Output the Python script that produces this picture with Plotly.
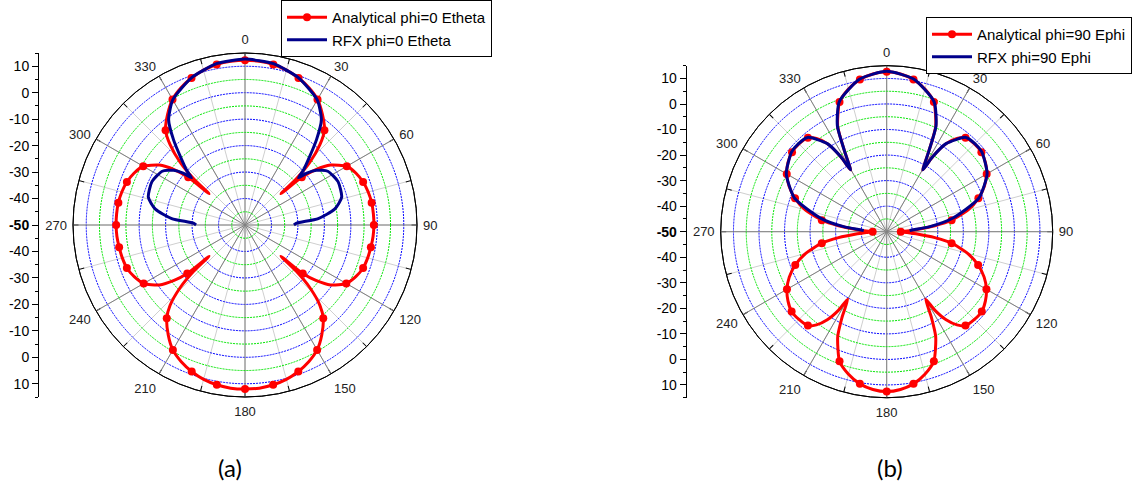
import plotly.graph_objects as go

# ---------------- data: panel (a) ----------------
A_RED_THETA = [0, 5, 10, 15, 20, 25, 30, 35, 40, 43, 46, 48, 49, 50, 52, 55, 60, 65, 70, 75, 80, 85, 90,
               95, 100, 105, 110, 115, 120, 125, 128, 130, 131, 132, 134, 137, 140, 145, 150, 155, 160, 165, 170, 175, 180,
               185, 190, 195, 200, 205, 210, 215, 220, 223, 226, 228, 229, 230, 232, 235, 240, 245, 250, 255, 260, 265, 270,
               275, 280, 285, 290, 295, 300, 305, 308, 310, 311, 312, 314, 317, 320, 325, 330, 335, 340, 345, 350, 355, 360]
A_RED_R = [12.3, 12.1, 11.6, 10.6, 9.1, 7.2, 4.8, 1.0, -3.3, -8.5, -16, -24, -32, -22, -16, -10.5, -5.6, -3.7, -2.5, -1.8, -1.4, -1.3, -1.3,
           -1.4, -1.7, -2.0, -2.5, -3.8, -5.8, -10.5, -16, -21.5, -32, -24, -16, -8.5, -4.0, 0.6, 4.5, 7.0, 8.9, 10.4, 11.3, 11.9, 12.0,
           11.9, 11.3, 10.4, 8.9, 7.0, 4.5, 0.6, -4.0, -8.5, -16, -24, -32, -21.5, -16, -10.5, -5.8, -3.8, -2.5, -2.0, -1.7, -1.4, -1.3,
           -1.3, -1.4, -1.8, -2.5, -3.7, -5.6, -10.5, -16, -22, -32, -24, -16, -8.5, -3.3, 1.0, 4.8, 7.2, 9.1, 10.6, 11.6, 12.1, 12.3]
A_RED_MK_THETA = [0, 10, 20, 30, 40, 50, 60, 70, 80, 90, 100, 110, 120, 130, 140, 150, 160, 170,
                  180, 190, 200, 210, 220, 230, 240, 250, 260, 270, 280, 290, 300, 310, 320, 330, 340, 350]
A_RED_MK_R = [12.3, 11.6, 9.1, 4.8, -3.3, -22, -5.6, -2.5, -1.4, -1.3, -1.7, -2.5, -5.8, -21.5, -4.0, 4.5, 8.9, 11.3,
              12.0, 11.3, 8.9, 4.5, -4.0, -21.5, -5.8, -2.5, -1.7, -1.3, -1.4, -2.5, -5.6, -22, -3.3, 4.8, 9.1, 11.6]
A_BLUE_THETA = [270, 272, 275, 280, 286, 295, 303, 307.5, 310, 311.5, 313, 316, 320, 324, 330, 340, 350, 360,
                10, 20, 30, 36, 40, 44, 47, 48.5, 50, 52.5, 57, 65, 74, 80, 85, 88, 90]
A_BLUE_R = [-31.5, -30.5, -22.2, -15.6, -12, -11.2, -12.7, -16, -19.5, -23, -20, -15.5, -8, -0.9, 4.6, 9.2, 11.9, 12.7,
            11.9, 9.2, 4.6, -0.9, -8, -15.5, -20, -23, -19.5, -16, -12.7, -11.2, -12, -15.6, -22.2, -30.5, -31.5]

# ---------------- data: panel (b) ----------------
B_RED_THETA = [0, 5, 10, 15, 20, 25, 27.5, 29.4, 30.3, 31.5, 34, 37, 40, 45, 50, 55, 60, 65, 70, 75, 80, 83, 86, 88, 90,
               92, 94, 97, 100, 105, 110, 115, 120, 125, 130, 135, 140, 143, 146, 148.5, 150, 152.5, 155, 160, 165, 170, 175, 180,
               185, 190, 195, 200, 205, 207.5, 210, 211.5, 214, 217, 220, 225, 230, 235, 240, 245, 250, 255, 260, 263, 266, 268, 270,
               272, 274, 277, 280, 285, 290, 295, 300, 305, 310, 315, 320, 323, 326, 328.5, 329.7, 330.6, 332.5, 335, 340, 345, 350, 355, 360]
B_RED_R = [12.6, 12.0, 10.5, 7.8, 4.0, -4.6, -14, -20, -22, -15.6, -8.4, -4.3, -2.0, -1.4, -1.6, -2.8, -4.8, -7.8, -11.8, -17, -24.2, -31, -38.5, -42, -44.5,
           -42, -38.5, -31, -24.2, -17.2, -11.9, -7.9, -4.9, -2.8, -1.4, -1.4, -2.0, -4.3, -8.4, -14, -19.5, -12, -4.6, 4.0, 7.8, 10.5, 12.0, 12.6,
           12.0, 10.5, 7.8, 4.0, -4.6, -12, -19.5, -14, -8.4, -4.3, -2.0, -1.4, -1.4, -2.8, -4.9, -7.9, -11.9, -17.2, -24.2, -31, -38.5, -42, -44.5,
           -42, -38.5, -31, -24.2, -17, -11.8, -7.8, -4.8, -2.8, -1.6, -1.4, -2.0, -4.3, -8.4, -15.6, -22, -20, -14, -4.6, 4.0, 7.8, 10.5, 12.0, 12.6]
B_RED_MK_THETA = [0, 10, 20, 40, 50, 60, 70, 80, 90, 100, 110, 120, 130, 140, 160, 170,
                  180, 190, 200, 220, 230, 240, 250, 260, 270, 280, 290, 300, 310, 320, 340, 350]
B_RED_MK_R = [12.6, 10.5, 4.0, -2.0, -1.6, -4.8, -11.8, -24.2, -44.5, -24.2, -11.9, -4.9, -1.4, -2.0, 4.0, 10.5,
              12.6, 10.5, 4.0, -2.0, -1.4, -4.9, -11.9, -24.2, -44.5, -24.2, -11.8, -4.8, -1.6, -2.0, 4.0, 10.5]
B_BLUE_THETA = [273, 274, 276.7, 281.5, 290, 300, 310, 315, 320, 326, 328.5, 329.7, 330.6, 332.5, 335, 340, 350, 360,
                10, 20, 25, 27.5, 29.4, 30.3, 31.5, 34, 40, 45, 50, 60, 70, 78.5, 83.3, 86, 87]
B_BLUE_R = [-41, -40, -33, -23.7, -11.6, -4.6, -1.4, -1.2, -1.8, -8.4, -15.6, -22, -20, -14, -4.3, 4.2, 10.7, 12.8,
            10.7, 4.2, -4.3, -14, -20, -22, -15.6, -8.4, -1.8, -1.2, -1.4, -4.6, -11.6, -23.7, -33, -40, -41]

# ---------------- axis labels ----------------
RADIAL_TICKVALS = [-60, -50, -40, -30, -20, -10, 0, 10, 20, 30, 40, 50, 60]
RADIAL_TICKTEXT = ['10', '0', '-10', '-20', '-30', '-40', '<b>-50</b>', '-40', '-30', '-20', '-10', '0', '10']
ANGLE_VALS = [0, 30, 60, 90, 120, 150, 180, 210, 240, 270, 300, 330]
ANGLE_TEXT = ['0', '30', '60', '90', '120', '150', '180', '210', '240', '270', '300', '330']
MINOR_ANGLE_VALS = [0, 15, 30, 45, 60, 75, 90, 105, 120, 135, 150, 165, 180, 195, 210, 225, 240, 255, 270, 285, 300,
                    315, 330, 345]
BLUE_RINGS = [-40, -30, -20, -10, 0, 10]
GREEN_RINGS = [-45, -35, -25, -15, -5, 5]

W, H = 1137, 487
FONT = "Liberation Sans, Arial, sans-serif"
RED = "#ff0000"
NAVY = "#00008b"


def px_x(v):
    return v / W


def px_y(v):
    return 1 - v / H


def polar_base(xd, yd):
    return dict(
        domain=dict(x=xd, y=yd), bgcolor="white",
        radialaxis=dict(range=[-50, 15], tickvals=BLUE_RINGS, showticklabels=False, ticks="", showline=False,
                        gridcolor="#0000ff", griddash="2px,1px", gridwidth=1),
        angularaxis=dict(rotation=90, direction="clockwise", tickvals=MINOR_ANGLE_VALS, showticklabels=False,
                         gridcolor="#cfcfcf", showline=True, linecolor="black", linewidth=1,
                         ticks="inside", ticklen=5, tickcolor="black"),
    )


def polar_top(xd, yd):
    return dict(
        domain=dict(x=xd, y=yd), bgcolor="rgba(0,0,0,0)",
        radialaxis=dict(range=[-50, 15], tickvals=GREEN_RINGS, showticklabels=False, ticks="", showline=False,
                        gridcolor="#00e600", griddash="2px,1px", gridwidth=1),
        angularaxis=dict(rotation=90, direction="clockwise", tickvals=ANGLE_VALS, ticktext=ANGLE_TEXT,
                         showticklabels=True, gridcolor="#808080", showline=True, linecolor="black", linewidth=1,
                         ticks="outside", ticklen=3, tickcolor="rgba(0,0,0,0)",
                         tickfont=dict(family=FONT, size=13, color="#222222")),
    )


fig = go.Figure()

panels = [
    dict(base="polar", top="polar2", legend="legend",
         red=(A_RED_THETA, A_RED_R), mk=(A_RED_MK_THETA, A_RED_MK_R), blue=(A_BLUE_THETA, A_BLUE_R),
         red_name="Analytical phi=0 Etheta", blue_name="RFX phi=0 Etheta"),
    dict(base="polar3", top="polar4", legend="legend2",
         red=(B_RED_THETA, B_RED_R), mk=(B_RED_MK_THETA, B_RED_MK_R), blue=(B_BLUE_THETA, B_BLUE_R),
         red_name="Analytical phi=90 Ephi", blue_name="RFX phi=90 Ephi"),
]

for p in panels:
    fig.add_trace(go.Scatterpolar(r=[None], theta=[None], subplot=p["base"], showlegend=False, mode="lines"))
    fig.add_trace(go.Scatterpolar(r=[None], theta=[None], subplot=p["top"], mode="lines+markers",
                                  name=p["red_name"], legend=p["legend"],
                                  line=dict(color=RED, width=3), marker=dict(color=RED, size=8)))
    fig.add_trace(go.Scatterpolar(r=p["red"][1], theta=p["red"][0], subplot=p["top"], mode="lines",
                                  showlegend=False, line=dict(color=RED, width=3, shape="spline", smoothing=0.6)))
    fig.add_trace(go.Scatterpolar(r=p["mk"][1], theta=p["mk"][0], subplot=p["top"], mode="markers",
                                  showlegend=False, marker=dict(color=RED, size=8)))
    fig.add_trace(go.Scatterpolar(r=p["blue"][1], theta=p["blue"][0], subplot=p["top"], mode="lines",
                                  name=p["blue_name"], legend=p["legend"],
                                  line=dict(color=NAVY, width=3, shape="spline", smoothing=0.6)))

# dummy traces for the radial (linear) axes on the left of each polar plot
fig.add_trace(go.Scatter(x=[None], y=[None], xaxis="x", yaxis="y", showlegend=False))
fig.add_trace(go.Scatter(x=[None], y=[None], xaxis="x2", yaxis="y2", showlegend=False))

A_X = [px_x(73), px_x(417)]
A_Y = [px_y(397), px_y(53)]
B_X = [px_x(720.7), px_x(1052.7)]
B_Y = [px_y(397.7), px_y(65.7)]


def yaxis_def(domain, anchor):
    return dict(domain=domain, anchor=anchor, range=[-65, 65], tickvals=RADIAL_TICKVALS, ticktext=RADIAL_TICKTEXT,
                ticks="outside", ticklen=6, tickwidth=1, tickcolor="black", showline=True, linecolor="black",
                linewidth=1, showgrid=False, zeroline=False, fixedrange=True,
                tickfont=dict(family=FONT, size=14, color="black"),
                minor=dict(dtick=5, tick0=0, ticks="outside", ticklen=3, tickcolor="black", showgrid=False))


def legend_def(x, y):
    return dict(x=px_x(x), y=px_y(y), xanchor="left", yanchor="top", bgcolor="white",
                bordercolor="black", borderwidth=1, font=dict(family=FONT, size=15, color="black"),
                tracegroupgap=0, itemwidth=40)


fig.update_layout(
    width=W, height=H, autosize=False,
    margin=dict(l=0, r=0, t=0, b=0),
    paper_bgcolor="white", plot_bgcolor="rgba(0,0,0,0)",
    polar=polar_base(A_X, A_Y), polar2=polar_top(A_X, A_Y),
    polar3=polar_base(B_X, B_Y), polar4=polar_top(B_X, B_Y),
    xaxis=dict(domain=[px_x(39), px_x(45)], visible=False, range=[0, 1]),
    yaxis=yaxis_def(A_Y, "x"),
    xaxis2=dict(domain=[px_x(686.7), px_x(692)], visible=False, range=[0, 1]),
    yaxis2=yaxis_def(B_Y, "x2"),
    legend=legend_def(281, 0),
    legend2=legend_def(926, 17),
    annotations=[
        dict(text="(a)", x=px_x(230), y=px_y(467), xref="paper", yref="paper", showarrow=False,
             xanchor="center", yanchor="middle",
             font=dict(family="Lato, sans-serif", size=24, color="black")),
        dict(text="(b)", x=px_x(890), y=px_y(467), xref="paper", yref="paper", showarrow=False,
             xanchor="center", yanchor="middle",
             font=dict(family="Lato, sans-serif", size=24, color="black")),
    ],
)

fig.write_html("out.html", config={"displayModeBar": False},
               post_script="document.body.style.margin='0';document.body.style.overflow='hidden';")
